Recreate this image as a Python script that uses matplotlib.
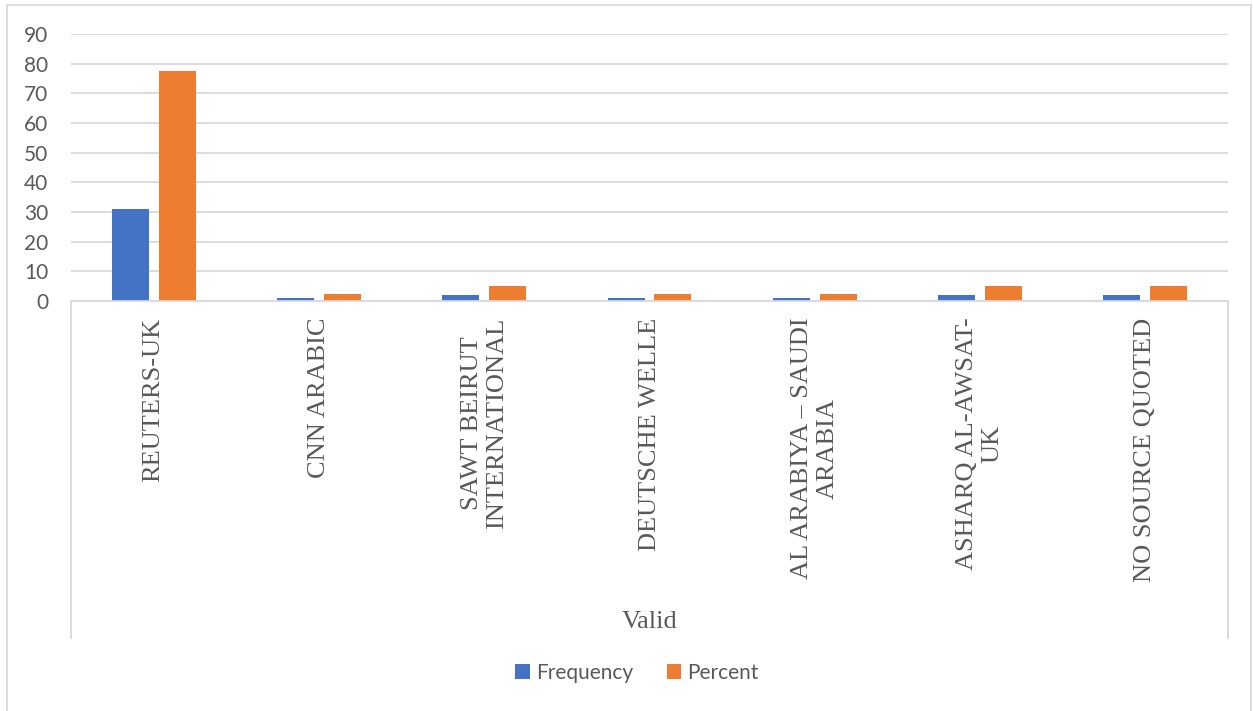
import matplotlib
matplotlib.use("Agg")
import matplotlib.pyplot as plt
from matplotlib.lines import Line2D
from matplotlib.patches import Rectangle
import numpy as np

categories = ["REUTERS-UK", "CNN ARABIC", "SAWT BEIRUT\nINTERNATIONAL", "DEUTSCHE WELLE",
              "AL ARABIYA – SAUDI\nARABIA", "ASHARQ AL-AWSAT-\nUK", "NO SOURCE QUOTED"]
frequency = [31, 1, 2, 1, 1, 2, 2]
percent = [77.5, 2.5, 5.0, 2.5, 2.5, 5.0, 5.0]
yticks = [0, 10, 20, 30, 40, 50, 60, 70, 80, 90]

W, H = 1253, 711
fig = plt.figure(figsize=(W / 100, H / 100), dpi=100)
TXT = "#595959"
GRID = "#D9D9D9"

x0, x1 = 71, 1228
ytop, ybot = 34, 301
ax = fig.add_axes([x0 / W, 1 - ybot / H, (x1 - x0) / W, (ybot - ytop) / H])

x = np.arange(len(categories))
bw = 0.224
off = 0.142
ax.bar(x - off, frequency, bw, color="#4472C4", label="Frequency", zorder=3)
ax.bar(x + off, percent, bw, color="#ED7D31", label="Percent", zorder=3)

ax.set_xlim(-0.5, len(categories) - 0.5)
ax.set_ylim(0, 90)
ax.set_yticks(yticks)
ax.set_yticklabels([str(v) for v in yticks], family="Lato", fontsize=15, color=TXT)
ax.tick_params(axis="y", length=0, pad=16.5)
ax.set_xticks(x)
ax.set_xticklabels(categories, rotation=90, family="Liberation Serif", fontsize=19,
                   color=TXT, va="top", ha="center", multialignment="center", linespacing=1.2)
ax.tick_params(axis="x", length=0, pad=12)
ax.yaxis.grid(True, color=GRID, lw=1.3, zorder=0)
for s in ["top", "left", "right"]:
    ax.spines[s].set_visible(False)
ax.spines["bottom"].set_color(GRID)
ax.spines["bottom"].set_linewidth(1.3)
ax.spines["bottom"].set_zorder(4)

# category box side lines
for xp in (x0, x1):
    fig.add_artist(Line2D([xp / W, xp / W], [1 - ybot / H, 1 - 638 / H], color=GRID, lw=1.3))

fig.text(650 / W, 1 - 622 / H, "Valid", family="Liberation Serif", fontsize=19,
         color=TXT, ha="center", va="center")

leg = fig.legend(loc="center", bbox_to_anchor=(637 / W, 1 - 673 / H), ncol=2, frameon=False,
                 prop={"family": "Lato", "size": 15}, handlelength=0.7, handleheight=0.7,
                 handletextpad=0.3, columnspacing=1.6)
for t in leg.get_texts():
    t.set_color(TXT)

fig.add_artist(Rectangle((7 / W, -0.05), (W - 9) / W, 1.05 - 5 / H, fill=False,
                         edgecolor=GRID, lw=1.3, transform=fig.transFigure))

fig.savefig("out.png", dpi=100)
